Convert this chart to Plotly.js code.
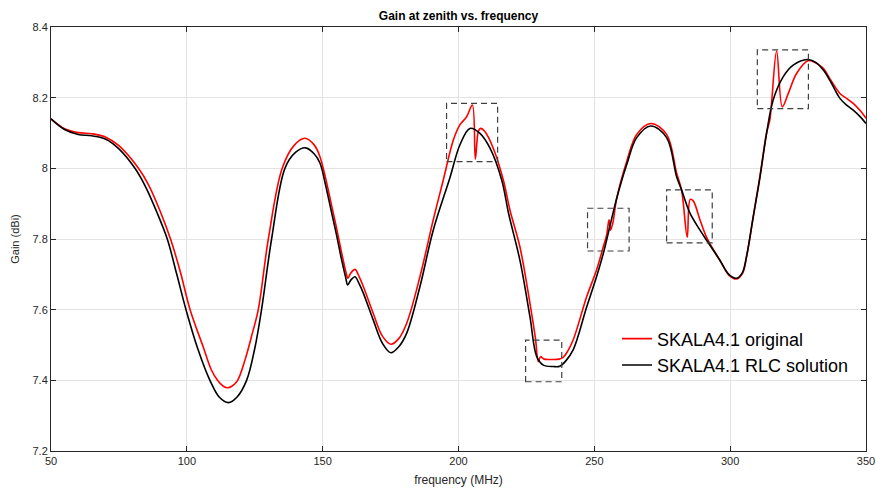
<!DOCTYPE html>
<html>
<head>
<meta charset="utf-8">
<script src="https://cdn.plot.ly/plotly-3.0.1.min.js"></script>
<style>html,body{margin:0;padding:0;background:#fff;}#chart{width:876px;height:488px;}</style>
</head>
<body>
<div id="chart"></div>
<script>
// Frequency (MHz) and gain (dBi)
const freqRLC = [50,55,60,65,70,75,80.9,85,89,92.8,96.3,99.7,104,108.5,112,115.3,118.5,122,125,127.5,131.2,136.1,140,143.7,147,149,151,153,155,157,158.5,159.2,160.5,161.9,163.5,165,168.6,172,175.1,178,180.9,185.8,190.7,196.9,200.5,204.2,207.9,211.6,215.9,218.5,222.6,226.3,228.8,231.2,234.9,237.3,239.5,242.2,247.2,250.8,253.3,258.2,261.9,265.6,270.8,276.6,280.3,282.1,285.2,288.9,291.9,296.2,299.5,302.4,304.5,306,308.5,311,313.4,315.8,319.5,323.2,328.4,331.5,334.3,337,340.4,343,345.3,348,350];
const gainRLC = [8.140,8.110,8.096,8.092,8.083,8.055,8.000,7.945,7.875,7.800,7.700,7.600,7.490,7.400,7.352,7.337,7.353,7.400,7.490,7.600,7.800,8.000,8.045,8.058,8.040,8.015,7.955,7.885,7.815,7.740,7.690,7.670,7.685,7.693,7.672,7.646,7.571,7.505,7.478,7.495,7.533,7.665,7.825,7.975,8.066,8.113,8.099,8.057,7.967,7.870,7.740,7.580,7.467,7.443,7.439,7.440,7.455,7.486,7.608,7.693,7.759,7.914,8.010,8.087,8.120,8.087,7.976,7.939,7.873,7.825,7.790,7.740,7.700,7.689,7.705,7.750,7.863,7.976,8.099,8.193,8.259,8.292,8.308,8.300,8.278,8.245,8.198,8.178,8.165,8.145,8.127];

const freqOrig = [50,55,60,65,70,75,82.2,86,90,94,97.5,101.2,106,109,111.3,113.3,115,116.7,118.7,121.5,124,126.3,130,135.1,139.5,143.5,147,149,151,153,155,157,158.6,159.3,160.3,161.9,163.5,165,168.6,172,175.1,178,180.9,185.8,190.7,194.4,198.1,200.5,203,205.1,206.2,207.3,208.1,209.7,212.8,216.5,219,222.6,226.3,228.3,229.4,230.2,231.5,234,237,238.5,240,242.2,247.2,250.8,253.3,254.5,255.4,255.9,256.8,258.2,261.9,265.6,270.8,276.6,280.3,282.1,284.2,285.3,286.4,288.9,291.5,296.2,299.5,302.4,304.5,306,308.5,311,313.4,314.6,317.1,319.2,321.4,324.5,328.8,331.8,334.3,337,340.4,343,345.3,348,350];
const gainOrig = [8.140,8.112,8.101,8.098,8.089,8.064,8.000,7.952,7.882,7.800,7.710,7.600,7.495,7.430,7.400,7.384,7.379,7.384,7.400,7.460,7.530,7.600,7.800,8.000,8.065,8.085,8.065,8.033,7.975,7.905,7.835,7.760,7.705,7.689,7.703,7.714,7.692,7.665,7.590,7.525,7.502,7.518,7.561,7.693,7.854,7.967,8.080,8.123,8.146,8.179,8.026,8.104,8.113,8.104,8.057,7.967,7.880,7.778,7.618,7.520,7.453,7.467,7.460,7.459,7.460,7.465,7.480,7.514,7.637,7.712,7.778,7.810,7.854,7.825,7.845,7.914,8.019,8.096,8.127,8.096,7.986,7.939,7.805,7.912,7.908,7.854,7.802,7.740,7.698,7.687,7.702,7.748,7.863,7.980,8.100,8.137,8.332,8.174,8.212,8.269,8.305,8.297,8.283,8.250,8.212,8.197,8.184,8.162,8.142];

// Dashed highlight boxes
const boxX0 = [195.6, 224.7, 247.5, 276.6, 310.0];
const boxX1 = [214.4, 238.0, 262.8, 293.4, 328.8];
const boxY0 = [8.019, 7.396, 7.766, 7.789, 8.169];
const boxY1 = [8.184, 7.514, 7.887, 7.939, 8.335];

const xTicks = [50,100,150,200,250,300,350];
const yTicks = [7.2,7.4,7.6,7.8,8,8.2,8.4];

const FONT = 'Liberation Sans, Arial, Helvetica, sans-serif';

const traces = [
  {x: freqOrig, y: gainOrig, type: 'scatter', mode: 'lines', name: 'SKALA4.1 original',
   line: {color: '#ff0000', width: 1.6, shape: 'spline', smoothing: 1}},
  {x: freqRLC, y: gainRLC, type: 'scatter', mode: 'lines', name: 'SKALA4.1 RLC solution',
   line: {color: '#000000', width: 1.6, shape: 'spline', smoothing: 1}}
];

const shapes = boxX0.map((x0, i) => ({
  type: 'rect', xref: 'x', yref: 'y', x0: x0, x1: boxX1[i], y0: boxY0[i], y1: boxY1[i],
  line: {color: '#404040', width: 1.2, dash: '6px,4px'}, fillcolor: 'rgba(0,0,0,0)'
}));

const axisCommon = {
  showline: true, mirror: 'ticks', linecolor: '#262626', linewidth: 1,
  ticks: 'inside', ticklen: 5, tickcolor: '#262626', tickwidth: 1,
  showgrid: true, gridcolor: '#e3e3e3', gridwidth: 1, zeroline: false,
  tickfont: {family: FONT, size: 11, color: '#262626'}
};

const layout = {
  width: 876, height: 488,
  margin: {l: 51, r: 10, t: 27, b: 37},
  paper_bgcolor: '#ffffff', plot_bgcolor: '#ffffff',
  title: {text: '<b>Gain at zenith vs. frequency</b>', x: 0.5, xref: 'paper', y: 0.967, yref: 'container', yanchor: 'middle',
          font: {family: FONT, size: 12, color: '#000000'}},
  xaxis: Object.assign({}, axisCommon, {
    range: [50, 350], tickvals: xTicks, ticktext: xTicks.map(String),
    title: {text: 'frequency (MHz)', standoff: 9, font: {family: FONT, size: 12, color: '#262626'}}
  }),
  yaxis: Object.assign({}, axisCommon, {
    range: [7.2, 8.4], tickvals: yTicks, ticktext: yTicks.map(String),
    title: {text: 'Gain (dBi)', standoff: 10, font: {family: FONT, size: 11, color: '#262626'}}
  }),
  shapes: shapes,
  showlegend: true,
  legend: {x: 0.6945, y: 0.308, xanchor: 'left', yanchor: 'top', bgcolor: 'rgba(255,255,255,0)',
           borderwidth: 0, font: {family: FONT, size: 18, color: '#000000'}, tracegroupgap: 0}
};

Plotly.newPlot('chart', traces, layout, {displayModeBar: false, staticPlot: true});
</script>
</body>
</html>
